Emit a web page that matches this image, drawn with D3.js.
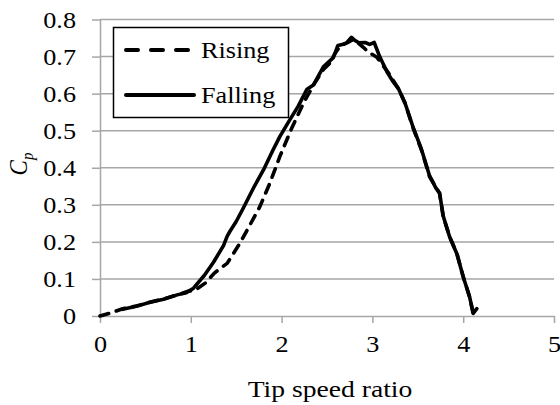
<!DOCTYPE html>
<html><head><meta charset="utf-8">
<script src="https://cdn.jsdelivr.net/npm/d3@7"></script>
<style>body{margin:0;background:#fff}text{font-family:"Liberation Serif","Times New Roman",serif;fill:#000}</style>
</head><body><svg id="c" width="560" height="405"></svg>
<script>
const xTicks = [0,1,2,3,4,5];
const yTicks = [0,0.1,0.2,0.3,0.4,0.5,0.6,0.7,0.8];
const seriesNames = ["Rising","Falling"];
const risingX = [0,0.13,0.24,0.4,0.55,0.7,0.88,0.96,1.05,1.16,1.26,1.40,1.54,1.65,1.76,1.87,1.98,2.11,2.24,2.35,2.46,2.53,2.59,2.65,2.72,2.78,2.85,2.90,2.95,3.05,3.18,3.29,3.36,3.45,3.54,3.63,3.74,3.78,3.85,3.93,4.0,4.07,4.11,4.15];
const risingY = [0,0.009,0.019,0.027,0.037,0.046,0.059,0.066,0.07,0.089,0.116,0.142,0.196,0.245,0.295,0.358,0.43,0.506,0.574,0.623,0.665,0.682,0.709,0.73,0.737,0.745,0.735,0.725,0.713,0.698,0.655,0.612,0.574,0.506,0.448,0.376,0.331,0.268,0.214,0.169,0.106,0.052,0.007,0.021];
const fallingX = [0.25,0.4,0.55,0.7,0.85,0.95,1.03,1.15,1.25,1.36,1.40,1.43,1.5,1.58,1.7,1.8,1.9,1.98,2.08,2.18,2.28,2.35,2.46,2.57,2.62,2.68,2.72,2.77,2.80,2.85,2.92,2.97,3.02,3.08,3.16,3.22,3.29,3.36,3.45,3.54,3.63,3.70,3.74,3.78,3.85,3.93,4.0,4.07,4.11,4.15];
const fallingY = [0.018,0.026,0.037,0.045,0.057,0.063,0.075,0.11,0.145,0.19,0.215,0.228,0.255,0.292,0.35,0.394,0.445,0.484,0.525,0.565,0.612,0.623,0.672,0.697,0.73,0.733,0.738,0.752,0.745,0.737,0.738,0.733,0.738,0.70,0.659,0.635,0.612,0.574,0.508,0.45,0.378,0.345,0.331,0.27,0.214,0.168,0.106,0.052,0.007,0.02];

const svg = d3.select("#c");
const FS = 23, STRETCH = 1.14;
const x = d3.scaleLinear().domain([0,5]).range([100,554]);
const y = d3.scaleLinear().domain([0,0.8]).range([316,19.5]);
const grid = "#a6a6a6";

// gridlines
svg.append("g").selectAll("line").data(yTicks.filter(d=>d>0)).join("line")
  .attr("x1",x(0)).attr("x2",x(5)).attr("y1",d=>y(d)).attr("y2",d=>y(d))
  .attr("stroke",grid).attr("stroke-width",1.5);

// y axis
const ya = svg.append("g").attr("transform","translate(100,0)")
  .call(d3.axisLeft(y).tickValues(yTicks).tickFormat(d=>d===0?"0":d3.format(".1f")(d)).tickSize(8).tickSizeOuter(0).tickPadding(16));
ya.select(".domain").attr("stroke",grid).attr("stroke-width",1.5);
ya.selectAll(".tick line").attr("stroke",grid).attr("stroke-width",1.5);
ya.selectAll(".tick text").attr("font-size",FS).attr("font-family","Liberation Serif").attr("dy","0.34em");

// x axis
const xa = svg.append("g").attr("transform","translate(0,316)")
  .call(d3.axisBottom(x).tickValues(xTicks).tickFormat(d3.format("d")).tickSize(7).tickSizeOuter(0).tickPadding(13));
xa.select(".domain").attr("stroke",grid).attr("stroke-width",1.5);
xa.selectAll(".tick line").attr("stroke",grid).attr("stroke-width",1.5);
xa.selectAll(".tick text").attr("font-size",FS).attr("font-family","Liberation Serif").attr("dy","0.71em");

// lines
const line = d3.line().x(d=>x(d[0])).y(d=>y(d[1])).curve(d3.curveLinear);
const rising = risingX.map((v,i)=>[v,risingY[i]]);
const falling = fallingX.map((v,i)=>[v,fallingY[i]]);
svg.append("path").attr("d",line(falling)).attr("fill","none").attr("stroke","#000")
  .attr("stroke-width",3.6).attr("stroke-linejoin","round").attr("stroke-linecap","round");
svg.append("path").attr("d",line(rising)).attr("fill","none").attr("stroke","#000")
  .attr("stroke-width",3.6).attr("stroke-dasharray","9,8").attr("stroke-linecap","round");

// legend
const lg = svg.append("g");
lg.append("rect").attr("x",113.5).attr("y",27.5).attr("width",175).attr("height",90)
  .attr("fill","#fff").attr("stroke","#000").attr("stroke-width",1.5);
const ly = [50,95];
lg.append("line").attr("x1",126).attr("x2",194).attr("y1",ly[0]).attr("y2",ly[0])
  .attr("stroke","#000").attr("stroke-width",4).attr("stroke-dasharray","12,13").attr("stroke-linecap","round");
lg.append("line").attr("x1",126).attr("x2",194).attr("y1",ly[1]).attr("y2",ly[1])
  .attr("stroke","#000").attr("stroke-width",4).attr("stroke-linecap","round");
seriesNames.forEach((n,i)=>{
  lg.append("text").attr("x",201).attr("y",ly[i]).attr("dy","0.34em").attr("font-size",FS).text(n);
});

// x label
const xl = svg.append("text").attr("x",330).attr("y",397).attr("text-anchor","middle").attr("font-size",FS).text("Tip speed ratio");

// y label
const yl = svg.append("text").attr("transform","translate(27,164) scale(1.14,1) rotate(-90)").attr("text-anchor","middle")
  .attr("font-size",FS).attr("font-style","italic");
yl.append("tspan").text("C");
yl.append("tspan").attr("font-size",15).attr("dy",5).text("p");

// horizontal stretch of text to match reference proportions
svg.selectAll("text").each(function(){
  if (this === yl.node()) return;
  const L = this.getComputedTextLength();
  const s = this === xl.node() ? 1.2 : STRETCH;
  d3.select(this).attr("textLength",L*s).attr("lengthAdjust","spacingAndGlyphs");
});
</script></body></html>
